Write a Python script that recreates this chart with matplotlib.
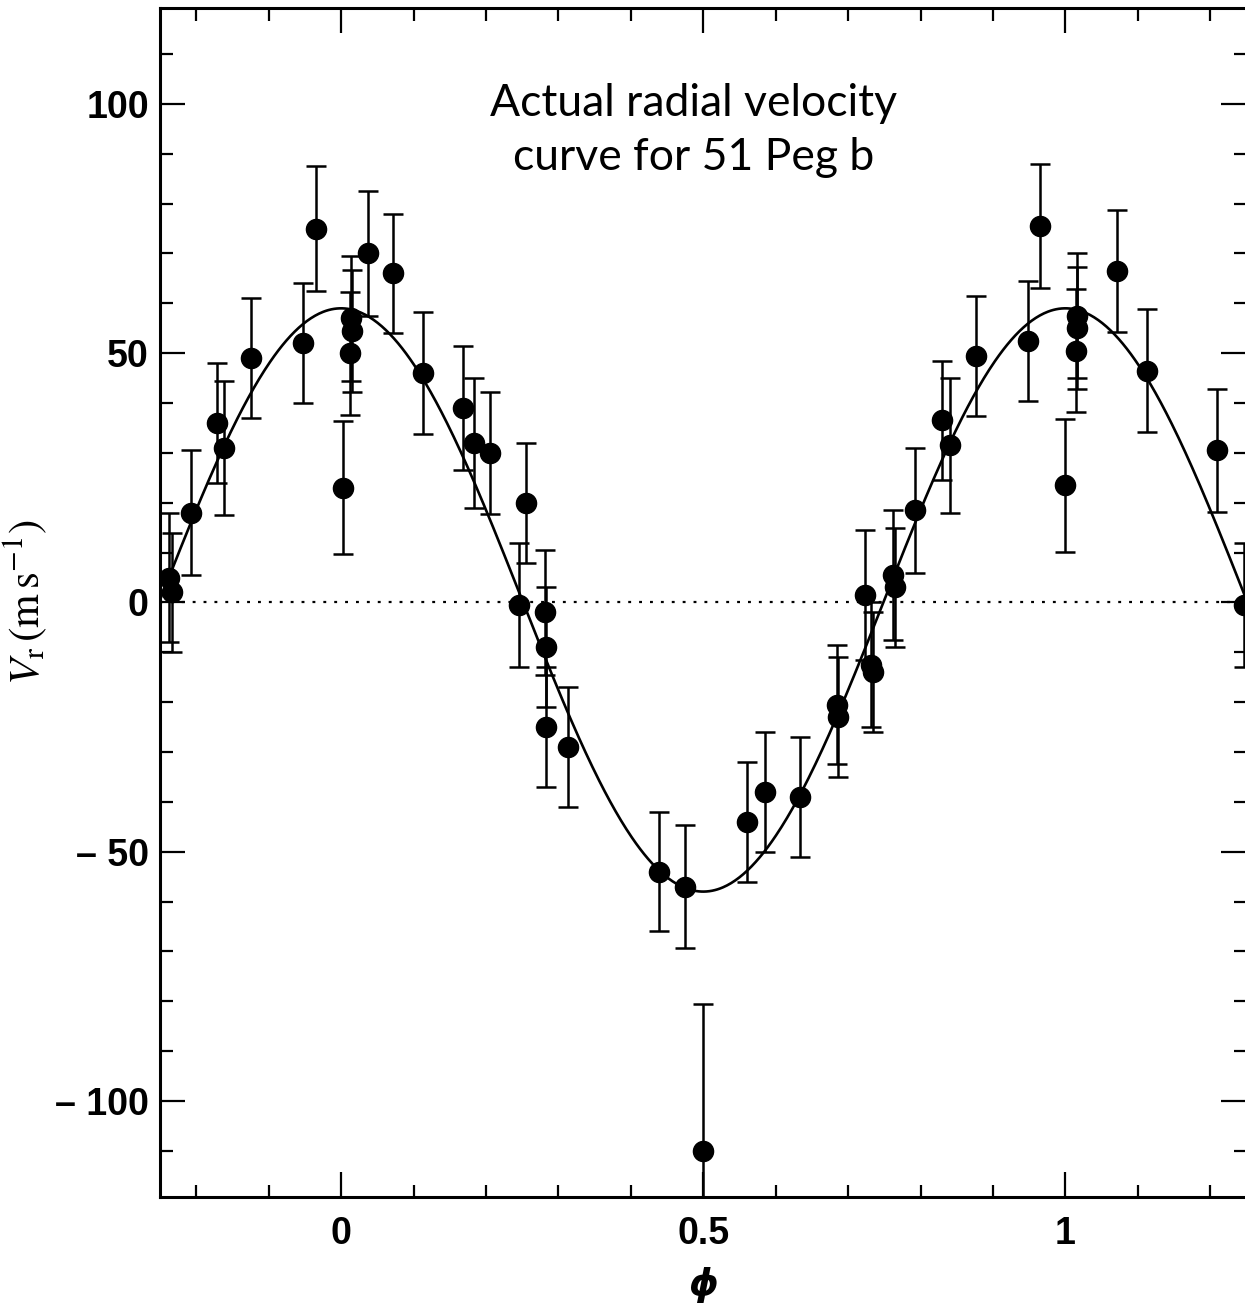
"""
plot.py
-------
Radial velocity curve of 51 Peg b, phase-folded, with sinusoidal orbit fit.

Outputs:
    out.png
"""

import numpy as np
import matplotlib.pyplot as plt
from matplotlib.ticker import MultipleLocator

# ─── Data ────────────────────────────────────────────────────────────────────
PHASE = [
    -0.238, -0.234, -0.207, -0.171, -0.161, -0.124, -0.052, -0.034,
    0.002, 0.014, 0.015, 0.013, 0.037, 0.072, 0.113, 0.168,
    0.184, 0.205, 0.246, 0.256, 0.281, 0.283, 0.283, 0.313,
    0.439, 0.475, 0.500, 0.560, 0.585, 0.633, 0.685, 0.686,
    0.723, 0.732, 0.735, 0.762, 0.765, 0.792, 0.829, 0.840,
    0.876, 0.949, 0.965, 1.000, 1.016, 1.016, 1.015, 1.071,
    1.112, 1.209, 1.247,
]
VR = [
    5.0, 2.0, 18.0, 36.0, 31.0, 49.0, 52.0, 75.0,
    23.0, 57.0, 54.5, 50.0, 70.0, 66.0, 46.0, 39.0,
    32.0, 30.0, -0.5, 20.0, -2.0, -9.0, -25.0, -29.0,
    -54.0, -57.0, -110.0, -44.0, -38.0, -39.0, -20.5, -23.0,
    1.5, -12.5, -14.0, 5.5, 3.0, 18.5, 36.5, 31.5,
    49.5, 52.5, 75.5, 23.5, 57.5, 55.0, 50.5, 66.5,
    46.5, 30.5, -0.5,
]
VR_ERR = [
    13.0, 12.0, 12.5, 12.0, 13.5, 12.0, 12.0, 12.5,
    13.3, 12.5, 12.2, 12.3, 12.5, 12.0, 12.3, 12.5,
    13.0, 12.3, 12.5, 12.0, 12.5, 12.0, 12.0, 12.0,
    12.0, 12.4, 29.5, 12.0, 12.0, 12.0, 12.0, 12.0,
    13.0, 12.5, 12.0, 13.0, 12.0, 12.5, 12.0, 13.5,
    12.0, 12.0, 12.5, 13.3, 12.5, 12.2, 12.3, 12.2,
    12.3, 12.3, 12.5,
]

# Orbital fit (circular orbit)
K_FIT = 58.5        # semi-amplitude, m/s
GAMMA_FIT = 0.5     # offset, m/s
PHI0_FIT = 0.0      # phase of maximum

X_TICKS = [0, 0.5, 1]
X_TICKLABELS = ["0", "0.5", "1"]
Y_TICKS = [-100, -50, 0, 50, 100]
Y_TICKLABELS = ["\u2013 100", "\u2013 50", "0", "50", "100"]

TITLE = "Actual radial velocity\ncurve for 51 Peg b"


def main():
    plt.rcParams["mathtext.fontset"] = "stix"

    fig = plt.figure(figsize=(12.45, 13.05), dpi=100)
    ax = fig.add_axes([0.1285, 0.0830, 0.8727, 0.9107])

    # zero line
    ax.axhline(0, color="black", linewidth=1.6, linestyle=(0, (1.3, 3.6)), zorder=1)

    # model curve
    phi = np.linspace(-0.25, 1.25, 800)
    model = GAMMA_FIT + K_FIT * np.cos(2 * np.pi * (phi - PHI0_FIT))
    ax.plot(phi, model, color="black", linewidth=1.9, zorder=2)

    # measurements
    ax.errorbar(PHASE, VR, yerr=VR_ERR, fmt="o", color="black",
                markersize=14.5, elinewidth=1.8, capsize=7.5, capthick=1.8,
                zorder=3, clip_on=True)

    # ── Formatting ─────────────────────────────────────────────────────
    ax.set_xlim(-0.25, 1.25)
    ax.set_ylim(-119.2, 119.2)
    ax.xaxis.set_minor_locator(MultipleLocator(0.1))
    ax.yaxis.set_minor_locator(MultipleLocator(10))
    ax.set_xticks(X_TICKS)
    ax.set_xticklabels(X_TICKLABELS)
    ax.set_yticks(Y_TICKS)
    ax.set_yticklabels(Y_TICKLABELS)

    ax.tick_params(which="both", direction="in", top=True, right=True,
                   width=1.6, colors="black")
    ax.tick_params(which="major", length=18)
    ax.tick_params(which="minor", length=9)
    ax.tick_params(axis="x", which="major", pad=14)
    ax.tick_params(axis="y", which="major", pad=8)
    for lab in ax.get_xticklabels() + ax.get_yticklabels():
        lab.set_fontfamily("Liberation Sans")
        lab.set_fontweight("bold")
        lab.set_fontsize(27)

    for sp in ax.spines.values():
        sp.set_linewidth(2.2)

    ax.set_ylabel(r"$V_{\rm r}\,({\rm m\,s^{-1}})$", fontsize=31, labelpad=4)
    ax.set_xlabel("\u03d5", fontsize=27, fontweight="bold", fontstyle="italic",
                  fontfamily="DejaVu Sans", labelpad=10)

    fig.text(694 / 1245, 1 - 83 / 1305, TITLE, ha="center", va="top",
             fontsize=32, fontfamily="Lato", linespacing=1.4)

    fig.savefig("out.png", dpi=100)
    plt.close(fig)


if __name__ == "__main__":
    main()
